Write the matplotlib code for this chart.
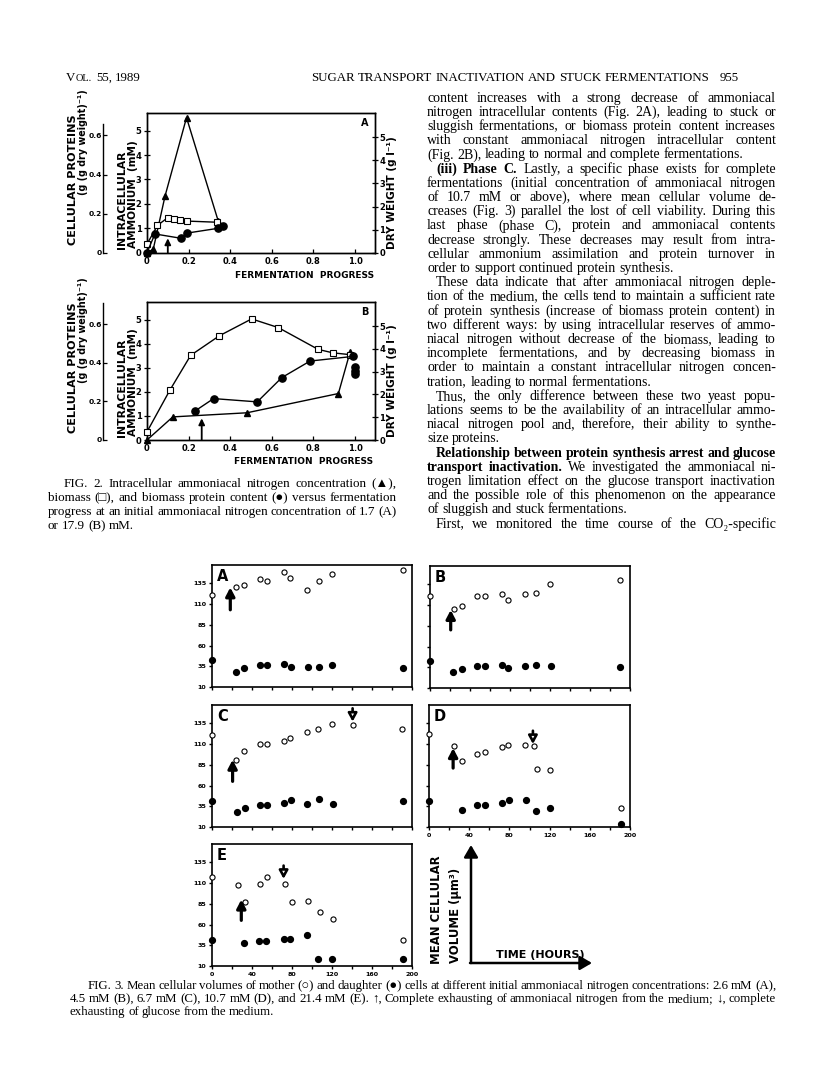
import matplotlib
matplotlib.use('Agg')
import matplotlib.pyplot as plt
from matplotlib.patches import FancyArrowPatch

W, H = 816, 1083
fig = plt.figure(figsize=(W / 100, H / 100), dpi=100)
fig.patch.set_facecolor('white')

SERIF = ['Liberation Serif', 'DejaVu Serif', 'DejaVu Sans']
SANS = ['DejaVu Sans']

# ---------------- data : Fig. 2 ----------------
progress_ticks = [0, 0.2, 0.4, 0.6, 0.8, 1.0]
progress_labels = ['0', '0.2', '0.4', '0.6', '0.8', '1.0']
ammonium_ticks = [0, 1, 2, 3, 4, 5]
dryweight_ticks = [0, 1, 2, 3, 4, 5]
protein_ticks = [0, 0.2, 0.4, 0.6]
protein_labels = ['0', '0.2', '0.4', '0.6']

# panel A (1.7 mM)
a_tri_x = [0, 0.03, 0.087, 0.19, 0.343]
a_tri_y = [0, 0.14, 2.33, 5.53, 1.28]
a_sq_x = [0, 0.05, 0.10, 0.13, 0.16, 0.19, 0.335]
a_sq_y = [0.37, 1.18, 1.52, 1.44, 1.40, 1.37, 1.32]
a_ci_x = [0, 0.038, 0.162, 0.19, 0.343, 0.364]
a_ci_y = [0, 0.096, 0.074, 0.10, 0.125, 0.137]
a_arrow = (0.10, 0.59)

# panel B (17.9 mM)
b_tri_x = [0, 0.124, 0.48, 0.92, 0.976]
b_tri_y = [0, 0.96, 1.13, 1.93, 3.65]
b_sq_x = [0, 0.11, 0.21, 0.348, 0.503, 0.631, 0.823, 0.893, 0.976]
b_sq_y = [0.36, 2.19, 3.72, 4.58, 5.32, 4.94, 3.98, 3.83, 3.75]
b_ci_x = [0.23, 0.32, 0.53, 0.648, 0.784, 0.99]
b_ci_y = [0.15, 0.215, 0.198, 0.324, 0.41, 0.434]
b_ci_end_x = [1.0, 1.0, 1.0]
b_ci_end_y = [0.38, 0.36, 0.345]
b_arrow = (0.263, 0.9)

# ---------------- data : Fig. 3 ----------------
vol_ticks = [10, 35, 60, 85, 110, 135]
time_major = [0, 40, 80, 120, 160, 200]
time_minor = [20, 60, 100, 140, 180]

A_mt = [0, 24.3, 31.6, 47.6, 55, 72.3, 78.3, 95, 106.6, 120, 191]
A_mv = [121, 130, 132.9, 140.5, 137.7, 148.9, 140.8, 126.4, 137.2, 146, 151.3]
A_dt = [0, 24.3, 31.6, 47.6, 55, 71.6, 79, 95.6, 106.6, 120, 191]
A_dv = [42, 28.4, 32.9, 36.5, 36.5, 37.7, 34.5, 34.5, 34.5, 36.9, 33.3]

B_mt = [0, 24.3, 31.7, 47.3, 55.3, 71.7, 78.3, 95, 106.3, 120, 190]
B_mv = [121.2, 105.2, 109.2, 120.4, 120.4, 123.2, 116.4, 122.8, 124.8, 135.7, 140.5]
B_dt = [0, 23.3, 31.7, 47.3, 55.3, 71.7, 78.3, 95, 106.3, 120.7, 190]
B_dv = [42, 28.8, 32.9, 36, 36, 37.7, 34.1, 36, 37.7, 36.9, 34.8]

C_mt = [0, 24.3, 31.6, 47.6, 55, 71.6, 78.3, 95, 105.6, 120, 140.6, 190]
C_mv = [120.4, 91, 101.9, 110, 110.4, 113.6, 117.2, 124.5, 127.6, 133.6, 133, 128.4]
C_dt = [0, 25, 32.6, 47.6, 55, 72.3, 79, 95, 106.6, 120.6, 191]
C_dv = [40.8, 28.4, 32.4, 36.9, 36, 38.9, 42.9, 37.7, 43.7, 38.1, 40.8]

D_mt = [0, 24.7, 32.4, 48, 56, 72.4, 79, 95.7, 104, 107.4, 120.7, 190.7]
D_mv = [122, 108, 89, 98, 100.4, 105.9, 109.2, 109.2, 107, 79.9, 78.2, 32.9]
D_dt = [0, 32.4, 48, 56, 72.4, 79.7, 96.4, 106.7, 120.7, 190.7]
D_dv = [40.8, 30.8, 36.9, 36.5, 38.9, 42, 42.9, 28.8, 32.9, 13.6]

E_mt = [0, 25.6, 33.3, 48.3, 55, 72.6, 80, 95.6, 107.6, 121, 191]
E_mv = [116.9, 107.6, 87.5, 108.4, 116.9, 108.4, 87.5, 88.7, 74.7, 66.3, 41.3]
E_dt = [0, 32.4, 47, 54.4, 71.6, 78.4, 94.6, 105.9, 120, 191]
E_dv = [41.3, 38, 40, 40, 42, 42, 47, 18.8, 18.8, 18.8]

# nitrogen exhaustion arrows (time, tail volume, tip volume)
N_arrows = {'A': (18.3, 103, 130), 'B': (20.7, 80, 104), 'C': (20.6, 65, 91),
            'D': (24, 81, 105), 'E': (29.3, 65, 90)}
# glucose exhaustion arrows (time, tail volume, tip volume)
G_arrows = {'C': (140.6, 153, 137), 'D': (103.4, 126, 110), 'E': (71.6, 131, 115)}


def rect(l, t, r, b):
    return [l / W, 1 - b / H, (r - l) / W, (b - t) / H]


def bold_ticks(ax, size):
    for lab in ax.get_xticklabels() + ax.get_yticklabels():
        lab.set_fontweight('bold')
        lab.set_fontsize(size)
        lab.set_family(SANS)


# ---------------- Fig. 2 panels ----------------
def fig2_panel(r, tri, sq, ci, ci_end, arrow, letter, pbound):
    ax = fig.add_axes(rect(*r))
    ax.set_xlim(0, 1.096)
    ax.set_ylim(0, 5.72)
    axR = ax.twinx()
    axR.set_ylim(0, 6.05)
    axP = ax.twinx()
    axP.set_ylim(0, 0.715)
    for a in (ax, axR, axP):
        for s in a.spines.values():
            s.set_linewidth(1.0)
    axP.spines['right'].set_visible(False)
    axP.spines['top'].set_visible(False)
    axP.spines['bottom'].set_visible(False)
    axP.spines['left'].set_visible(True)
    axP.spines['left'].set_position(('outward', 31.7))
    axP.spines['left'].set_bounds(0, pbound)
    axP.yaxis.set_ticks_position('left')
    axP.yaxis.set_label_position('left')

    ax.set_xticks(progress_ticks)
    ax.set_xticklabels(progress_labels)
    ax.set_yticks(ammonium_ticks)
    axR.set_yticks(dryweight_ticks)
    axP.set_yticks(protein_ticks)
    axP.set_yticklabels(protein_labels)
    ax.tick_params(axis='x', direction='in', length=3, width=0.9, pad=3)
    ax.tick_params(axis='y', direction='inout', length=4, width=0.9, pad=2)
    axR.tick_params(axis='y', direction='inout', length=4, width=0.9, pad=1)
    axP.tick_params(axis='y', direction='in', length=3, width=0.9, pad=0.5)
    bold_ticks(ax, 6.0)
    bold_ticks(axR, 6.0)
    bold_ticks(axP, 5.4)

    ax.plot(tri[0], tri[1], '-', color='k', lw=1.0, marker='^', ms=4.6,
            mfc='k', mec='k', clip_on=False, zorder=4)
    axR.plot(sq[0], sq[1], '-', color='k', lw=1.0, marker='s', ms=4.4,
             mfc='white', mec='k', mew=0.8, clip_on=False, zorder=4)
    axP.plot(ci[0], ci[1], '-', color='k', lw=1.0, marker='o', ms=5.2,
             mfc='k', mec='k', clip_on=False, zorder=5)
    if ci_end is not None:
        axP.plot(ci_end[0], ci_end[1], 'o', color='k', ms=5.2, clip_on=False, zorder=5)
    ax.add_patch(FancyArrowPatch((arrow[0], 0), (arrow[0], arrow[1]),
                                 arrowstyle='-|>,head_length=0.45,head_width=0.22',
                                 mutation_scale=8, lw=1.3,
                                 color='k', shrinkA=0, shrinkB=0, zorder=6))
    ax.text(0.955, 0.93, letter, transform=ax.transAxes, ha='center', va='center',
            fontsize=7, fontweight='bold', family=SANS)
    return ax


fig2_panel((147, 113, 375, 252.7), (a_tri_x, a_tri_y), (a_sq_x, a_sq_y),
           (a_ci_x, a_ci_y), None, a_arrow, 'A', 0.66)
fig2_panel((147, 302.3, 375, 440), (b_tri_x, b_tri_y), (b_sq_x, b_sq_y),
           (b_ci_x, b_ci_y), (b_ci_end_x, b_ci_end_y), b_arrow, 'B', 0.71)

# ---------------- Fig. 3 panels ----------------
panels3 = [
    ('A', (212, 565, 412, 687), A_mt, A_mv, A_dt, A_dv, True, False),
    ('B', (430, 566, 630, 688), B_mt, B_mv, B_dt, B_dv, False, False),
    ('C', (212, 705, 412, 827), C_mt, C_mv, C_dt, C_dv, True, False),
    ('D', (429, 705, 630, 827), D_mt, D_mv, D_dt, D_dv, False, True),
    ('E', (212, 844, 412, 966), E_mt, E_mv, E_dt, E_dv, True, True),
]
for letter, r, mt, mv, dt, dv, ylab, xlab in panels3:
    ax = fig.add_axes(rect(*r))
    ax.set_xlim(0, 200)
    ax.set_ylim(10, 157)
    for s in ax.spines.values():
        s.set_linewidth(1.2)
    ax.set_yticks(vol_ticks)
    ax.set_xticks(time_major)
    ax.set_xticks(time_minor, minor=True)
    ax.tick_params(axis='both', which='both', direction='out', length=2.5, width=1.0, pad=1.5)
    if not ylab:
        ax.set_yticklabels([])
    if not xlab:
        ax.set_xticklabels([])
    bold_ticks(ax, 4.6)
    ax.plot(mt, mv, 'o', ls='none', mfc='white', mec='k', ms=3.7, mew=0.8,
            clip_on=False, zorder=4)
    ax.plot(dt, dv, 'o', ls='none', color='k', ms=4.2, clip_on=False, zorder=4)
    nt, n0, n1 = N_arrows[letter]
    ax.add_patch(FancyArrowPatch((nt, n0), (nt, n1), arrowstyle='-|>,head_length=0.42,head_width=0.22',
                                 mutation_scale=12, lw=2.3, color='k',
                                 shrinkA=0, shrinkB=0, zorder=5))
    if letter in G_arrows:
        gt, g0, g1 = G_arrows[letter]
        ax.add_patch(FancyArrowPatch((gt, g0), (gt, g1), arrowstyle='-|>,head_length=0.4,head_width=0.22',
                                     mutation_scale=12, lw=1.9, fc='white', ec='k',
                                     shrinkA=0, shrinkB=0, zorder=5))
    ax.text(5, 157 - 4 / 0.83, letter, ha='left', va='top', fontsize=10.5,
            fontweight='bold', family=SANS)

# ---------------- page text overlay ----------------
axt = fig.add_axes([0, 0, 1, 1], zorder=20)
axt.set_xlim(0, W)
axt.set_ylim(H, 0)
axt.axis('off')
axt.patch.set_alpha(0)
renderer = fig.canvas.get_renderer()


def words_of(segs):
    out = []
    for txt, wt in segs:
        for w in txt.split(' '):
            if w:
                out.append((w, wt))
    return out


def measure(words, size, family):
    ws = []
    for w, wt in words:
        t = axt.text(0, 0, w, fontsize=size, fontweight=wt, family=family)
        ws.append(t.get_window_extent(renderer).width)
        t.remove()
    return ws


def fit_size(lines, base, family=SERIF, space=0.22):
    ratios = []
    for x0, x1, segs in lines:
        ws = measure(words_of(segs), base, family)
        nat = sum(ws) + (len(ws) - 1) * base * 100 / 72 * space
        ratios.append((x1 - x0) / nat)
    return base * min(ratios)


def draw_line(x0, y, segs, size, x1=None, family=SERIF, space=0.25):
    words = words_of(segs)
    arts, widths = [], []
    for w, wt in words:
        t = axt.text(0, y, w, fontsize=size, fontweight=wt, family=family,
                     ha='left', va='baseline')
        arts.append(t)
        widths.append(t.get_window_extent(renderer).width)
    gap = size * 100 / 72 * space
    if x1 is not None and len(words) > 1:
        gap = max((x1 - x0 - sum(widths)) / (len(words) - 1), 1.0)
    x = x0
    for t, wd in zip(arts, widths):
        t.set_x(x)
        x += wd + gap
    return x - gap


N, B = 'normal', 'bold'

# header
hsize = fit_size([(311, 712, [('SUGAR TRANSPORT INACTIVATION AND STUCK FERMENTATIONS', N)])], 10.0, space=0.25)
draw_line(311, 81, [('SUGAR TRANSPORT INACTIVATION AND STUCK FERMENTATIONS', N)], hsize)
xe = draw_line(66, 81, [('V', N)], hsize)
xe = draw_line(xe + 0.5, 81, [('OL.', N)], hsize * 0.8)
draw_line(xe + 4, 81, [('55, 1989', N)], hsize)
draw_line(720, 81, [('955', N)], hsize)

body = [
    (False, [('content increases with a strong decrease of ammoniacal', N)], True),
    (False, [('nitrogen intracellular contents (Fig. 2A), leading to stuck or', N)], True),
    (False, [('sluggish fermentations, or biomass protein content increases', N)], True),
    (False, [('with constant ammoniacal nitrogen intracellular content', N)], True),
    (False, [('(Fig. 2B), leading to normal and complete fermentations.', N)], False),
    (True, [('(iii) Phase C.', B), ('Lastly, a specific phase exists for complete', N)], True),
    (False, [('fermentations (initial concentration of ammoniacal nitrogen', N)], True),
    (False, [('of 10.7 mM or above), where mean cellular volume de-', N)], True),
    (False, [('creases (Fig. 3) parallel the lost of cell viability. During this', N)], True),
    (False, [('last phase (phase C), protein and ammoniacal contents', N)], True),
    (False, [('decrease strongly. These decreases may result from intra-', N)], True),
    (False, [('cellular ammonium assimilation and protein turnover in', N)], True),
    (False, [('order to support continued protein synthesis.', N)], False),
    (True, [('These data indicate that after ammoniacal nitrogen deple-', N)], True),
    (False, [('tion of the medium, the cells tend to maintain a sufficient rate', N)], True),
    (False, [('of protein synthesis (increase of biomass protein content) in', N)], True),
    (False, [('two different ways: by using intracellular reserves of ammo-', N)], True),
    (False, [('niacal nitrogen without decrease of the biomass, leading to', N)], True),
    (False, [('incomplete fermentations, and by decreasing biomass in', N)], True),
    (False, [('order to maintain a constant intracellular nitrogen concen-', N)], True),
    (False, [('tration, leading to normal fermentations.', N)], False),
    (True, [('Thus, the only difference between these two yeast popu-', N)], True),
    (False, [('lations seems to be the availability of an intracellular ammo-', N)], True),
    (False, [('niacal nitrogen pool and, therefore, their ability to synthe-', N)], True),
    (False, [('size proteins.', N)], False),
    (True, [('Relationship between protein synthesis arrest and glucose', B)], True),
    (False, [('transport inactivation.', B), ('We investigated the ammoniacal ni-', N)], True),
    (False, [('trogen limitation effect on the glucose transport inactivation', N)], True),
    (False, [('and the possible role of this phenomenon on the appearance', N)], True),
    (False, [('of sluggish and stuck fermentations.', N)], False),
    (True, [('First, we monitored the time course of the CO\u2082-specific', N)], True),
]
bsize = fit_size([(436 if ind else 427, 776, segs) for ind, segs, j in body if j], 10.5)
for i, (indent, segs, just) in enumerate(body):
    y = 98 + 14.2 * i + 3.6
    x0 = 436 if indent else 427
    draw_line(x0, y, segs, bsize, x1=776 if just else None)

cap2 = [
    (64, 'FIG. 2. Intracellular ammoniacal nitrogen concentration (\u25b2),', True),
    (48, 'biomass (\u25a1), and biomass protein content (\u25cf) versus fermentation', True),
    (48, 'progress at an initial ammoniacal nitrogen concentration of 1.7 (A)', True),
    (48, 'or 17.9 (B) mM.', False),
]
c2size = fit_size([(x0, 397, [(t, N)]) for x0, t, j in cap2 if j], 9.5)
for i, (x0, txt, just) in enumerate(cap2):
    draw_line(x0, 484 + 13.8 * i + 3.4, [(txt, N)], c2size, x1=397 if just else None)

cap3 = [
    (88, 'FIG. 3. Mean cellular volumes of mother (\u25cb) and daughter (\u25cf) cells at different '
         'initial ammoniacal nitrogen concentrations: 2.6 mM (A),', True),
    (70, '4.5 mM (B), 6.7 mM (C), 10.7 mM (D), and 21.4 mM (E). \u2191, Complete exhausting of '
         'ammoniacal nitrogen from the medium; \u2193, complete', True),
    (70, 'exhausting of glucose from the medium.', False),
]
c3size = fit_size([(x0, 776, [(t, N)]) for x0, t, j in cap3 if j], 9.0, space=0.2)
for i, (x0, txt, just) in enumerate(cap3):
    draw_line(x0, 986 + 13 * i + 3.2, [(txt, N)], c3size, x1=776 if just else None, space=0.2)

# Fig. 2 axis titles
for dy in (0, 188):
    axt.text(73, 180 + dy, 'CELLULAR PROTEINS', rotation=90, ha='center', va='center',
             fontsize=8.1, fontweight='bold', family=SANS)
    axt.text(83, 142 + dy, '(g (g dry weight)\u207b\u00b9)', rotation=90, ha='center', va='center',
             fontsize=6.9, fontweight='bold', family=SANS)
    axt.text(122, 200 + dy, 'INTRACELLULAR', rotation=90, ha='center', va='center',
             fontsize=7.8, fontweight='bold', family=SANS)
    axt.text(132.5, 194 + dy, 'AMMONIUM  (mM)', rotation=90, ha='center', va='center',
             fontsize=7.6, fontweight='bold', family=SANS)
    axt.text(392, 193 + dy, 'DRY WEIGHT (g l\u207b\u00b9)', rotation=90, ha='center', va='center',
             fontsize=7.6, fontweight='bold', family=SANS)
axt.text(305, 276, 'FERMENTATION  PROGRESS', ha='center', va='center',
         fontsize=6.5, fontweight='bold', family=SANS)
axt.text(304, 462, 'FERMENTATION  PROGRESS', ha='center', va='center',
         fontsize=6.5, fontweight='bold', family=SANS)

# Fig. 3 key
axt.text(437, 964, 'MEAN CELLULAR', rotation=90, ha='center', va='bottom',
         fontsize=8.4, fontweight='bold', family=SANS)
axt.text(456, 963, 'VOLUME (\u03bcm\u00b3)', rotation=90, ha='center', va='bottom',
         fontsize=8.4, fontweight='bold', family=SANS)
axt.add_patch(FancyArrowPatch((471, 963), (471, 845), arrowstyle='-|>,head_length=0.6,head_width=0.35',
                              mutation_scale=12, lw=1.8, color='k', shrinkA=0, shrinkB=0))
axt.add_patch(FancyArrowPatch((470, 963), (592, 963), arrowstyle='-|>,head_length=0.6,head_width=0.35',
                              mutation_scale=12, lw=1.8, color='k', shrinkA=0, shrinkB=0))
axt.text(540, 958, 'TIME (HOURS)', ha='center', va='baseline',
         fontsize=8.0, fontweight='bold', family=SANS)

fig.savefig('out.png', dpi=100, facecolor='white')
